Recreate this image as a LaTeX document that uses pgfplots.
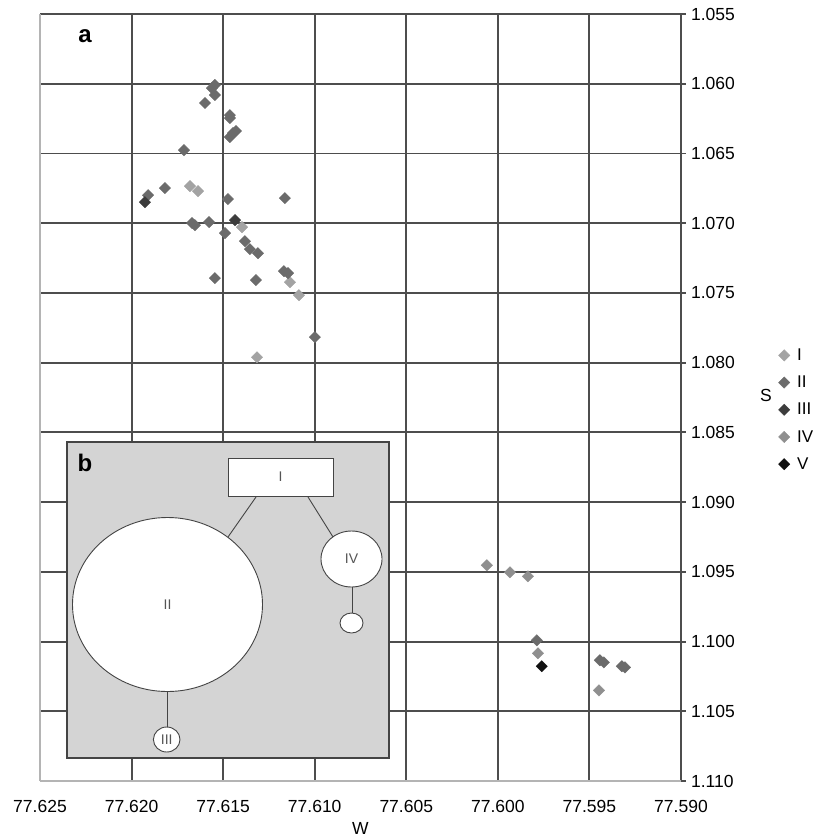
\documentclass[border=0pt]{standalone}
\usepackage{fontspec}
\setmainfont{Liberation Sans}
\usepackage{pgfplots}
\pgfplotsset{compat=1.18}
\definecolor{gridc}{HTML}{4D4D4D}
\definecolor{lightax}{HTML}{B4B4B4}
\definecolor{cI}{HTML}{A3A3A3}
\definecolor{cII}{HTML}{6B6B6B}
\definecolor{cIII}{HTML}{3C3C3C}
\definecolor{cIV}{HTML}{8F8F8F}
\definecolor{cV}{HTML}{111111}
\definecolor{boxfill}{HTML}{D4D4D4}
\definecolor{boxedge}{HTML}{444444}
\definecolor{intext}{HTML}{555555}
\begin{document}
\begin{tikzpicture}
\useasboundingbox (0pt,0pt) rectangle (819pt,-837pt);
\begin{axis}[
  at={(40pt,-781pt)}, anchor=south west,
  width=641pt, height=767pt, scale only axis,
  x dir=reverse, y dir=reverse,
  xmin=77.590, xmax=77.625, ymin=1.055, ymax=1.110,
  xtick={77.590,77.595,77.600,77.605,77.610,77.615,77.620},
  extra x ticks={77.625},
  ytick={1.055,1.060,1.065,1.070,1.075,1.080,1.085,1.090,1.095,1.100,1.105},
  extra y ticks={1.110},
  scaled x ticks=false, scaled y ticks=false,
  grid=major,
  major grid style={draw=gridc, line width=1.9pt},
  extra x tick style={major grid style={draw=lightax, line width=1.9pt}},
  extra y tick style={major grid style={draw=lightax, line width=1.9pt}},
  axis line style={draw=none},
  ytick pos=right, yticklabel pos=right, xtick pos=bottom,
  tick align=outside, major tick length=5pt,
  y tick style={draw=gridc, line width=1.9pt},
  x tick style={draw=none},
  tick label style={font=\fontsize{17.5}{20}\selectfont},
  xticklabel style={anchor=north, yshift=-11pt},
  yticklabel style={anchor=west, xshift=1.5pt},
  /pgf/number format/fixed, /pgf/number format/fixed zerofill,
  /pgf/number format/precision=3, /pgf/number format/assume math mode=true,
  xlabel={W}, ylabel={S},
  label style={font=\fontsize{17.5}{20}\selectfont},
  xlabel style={at={(axis description cs:0.5,-0.0613)}, anchor=center},
  ylabel style={at={(axis description cs:1.1326,0.503)}, anchor=center, rotate=-90},
  legend style={at={(axis description cs:1.1451,0.569)}, anchor=north west, draw=none, fill=none,
    font=\fontsize{17}{20}\selectfont, row sep=10pt},
  legend cell align=left,
  legend image code/.code={\path[draw=none,fill=none] (0pt,0pt) -- (18pt,0pt);
    \draw[mark repeat=2,mark phase=2,#1,only marks] plot coordinates {(0pt,0pt) (7pt,0pt) (14pt,0pt)};},
  every axis plot/.append style={only marks, mark=square*, mark size=4pt},
]
\addplot[mark options={rotate=45, draw=cI, fill=cI}] coordinates {
(77.61681,1.06734) (77.61637,1.06770) (77.61397,1.07028) (77.61135,1.07423) (77.61086,1.07516) (77.61315,1.07961)
};
\addlegendentry{I}
\addplot[mark options={rotate=45, draw=cII, fill=cII}] coordinates {
(77.61545,1.06009) (77.61561,1.06031) (77.61545,1.06081) (77.61599,1.06138) (77.61463,1.06225) (77.61463,1.06246)
(77.61446,1.06354) (77.61463,1.06382) (77.61430,1.06339) (77.61714,1.06476) (77.61910,1.06799) (77.61818,1.06748)
(77.61474,1.06827) (77.61163,1.06820) (77.61670,1.06999) (77.61654,1.07014) (77.61577,1.06992) (77.61490,1.07071)
(77.61381,1.07129) (77.61354,1.07186) (77.61310,1.07215) (77.61545,1.07394) (77.61321,1.07408) (77.61168,1.07344)
(77.61146,1.07358) (77.60999,1.07817) (77.59787,1.09991) (77.59443,1.10134) (77.59421,1.10149) (77.59323,1.10177)
(77.59306,1.10185)
};
\addlegendentry{II}
\addplot[mark options={rotate=45, draw=cIII, fill=cIII}] coordinates {
(77.61927,1.06849) (77.61435,1.06978)
};
\addlegendentry{III}
\addplot[mark options={rotate=45, draw=cIV, fill=cIV}] coordinates {
(77.60060,1.09453) (77.59934,1.09503) (77.59836,1.09532) (77.59781,1.10084) (77.59448,1.10350)
};
\addlegendentry{IV}
\addplot[mark options={rotate=45, draw=cV, fill=cV}] coordinates {
(77.59760,1.10177)
};
\addlegendentry{V}
\end{axis}
\begin{scope}[x=1pt,y=-1pt]
\node[font=\fontsize{24}{28}\selectfont\bfseries] at (85,36) {a};
\filldraw[fill=boxfill, draw=boxedge, line width=2.2pt] (67,442) rectangle (389,758);
\node[font=\fontsize{24}{28}\selectfont\bfseries] at (85,463) {b};
\begin{scope}[draw=boxedge, line width=0.9pt]
\draw (256,497) -- (228,537);
\draw (308,497) -- (333,537);
\draw (352,587) -- (352,613);
\draw (167,692) -- (167,727);
\filldraw[fill=white] (228,458) rectangle (333,496);
\filldraw[fill=white] (167.5,604.5) ellipse [x radius=95, y radius=87];
\filldraw[fill=white] (351.5,559) ellipse [x radius=30.5, y radius=28];
\filldraw[fill=white] (351.5,623) ellipse [x radius=11.5, y radius=10];
\filldraw[fill=white] (166.7,739.5) ellipse [x radius=13.3, y radius=12.5];
\end{scope}
\begin{scope}[font=\fontsize{14}{16}\selectfont, text=intext]
\node at (280.5,477) {I};
\node at (167.5,604.5) {II};
\node at (351.5,559) {IV};
\node at (166.7,739.5) {III};
\end{scope}
\end{scope}
\end{tikzpicture}
\end{document}
